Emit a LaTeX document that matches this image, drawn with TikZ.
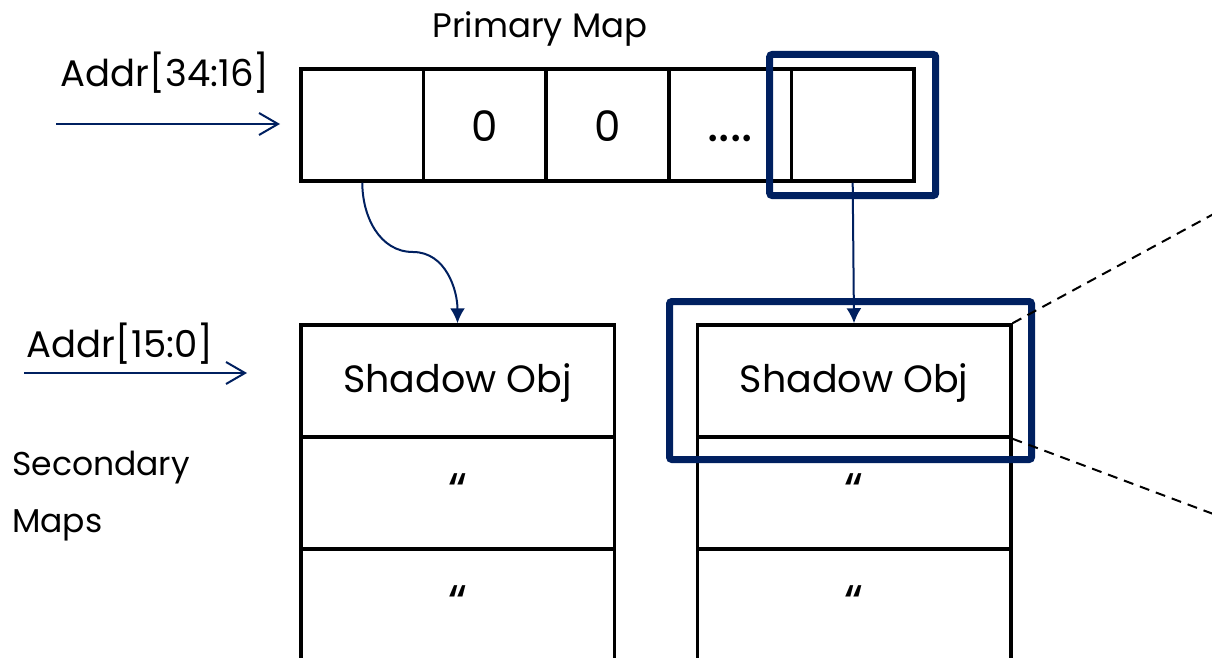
\documentclass[tikz,border=0pt]{standalone}
\usepackage{fontspec}
\setmainfont{Poppins}
\usetikzlibrary{arrows.meta,calc}
\definecolor{navy}{RGB}{0,32,96}

\begin{document}
\begin{tikzpicture}[x=1pt,y=-1pt,
  cell/.style={draw=black, line width=3.5pt, minimum width=122.6pt, minimum height=112pt,
    inner sep=0pt, font=\fontsize{42}{48}\selectfont, text height=34pt, text depth=0pt},
  slot/.style={draw=black, line width=3.5pt, minimum width=313.5pt, minimum height=112pt,
    inner sep=0pt, font=\fontsize{38}{44}\selectfont, text height=24pt, text depth=2pt},
  ditto/.style={font=\fontsize{50}{56}\selectfont, text height=30pt, text depth=0pt},
  txt/.style={inner sep=0pt, font=\fontsize{34}{40}\selectfont},
  hilite/.style={draw=navy, line width=7pt, rounded corners=2.5pt, inner sep=0pt},
  feed/.style={draw=navy, line width=2pt, -{Straight Barb[length=19pt,width=22pt]}},
  link/.style={draw=navy, line width=2pt, -{Latex[length=15pt,width=15pt]}},
  zoomline/.style={draw=black, line width=2pt, dash pattern=on 10pt off 7pt}]

% canvas
\useasboundingbox (0,0) rectangle (1212,658);
\fill[white] (0,0) rectangle (1212,658);
\clip (0,0) rectangle (1212,658);

% primary map: one row of five entries
\node[cell] (p1) at (362.3,125) {};
\node[cell] (p2) at (484.9,125) {0};
\node[cell] (p3) at (607.5,125) {0};
\node[cell, font=\fontsize{54}{60}\selectfont] (p4) at (730.1,125) {....};
\node[cell] (p5) at (852.7,125) {};
\node[txt, anchor=base] (ptitle) at (540,38) {Primary Map};

% secondary maps: two columns of entries
\node[slot] (s1a) at (457.5,381) {Shadow Obj};
\node[slot, ditto] (s1b) at (457.5,493) {“};
\node[slot, ditto] (s1c) at (457.5,605) {“};
\node[slot] (s2a) at (854,381) {Shadow Obj};
\node[slot, ditto] (s2b) at (854,493) {“};
\node[slot, ditto] (s2c) at (854,605) {“};
\node[txt, align=left, anchor=north west, font=\fontsize{33}{57}\selectfont] (stitle) at (12,451) {Secondary\\Maps};

% highlighted entries
\node[hilite, minimum width=166pt, minimum height=141pt] (hl1) at (p5.center) {};
\node[hilite, minimum width=362pt, minimum height=158pt] (hl2) at (850.5,380.5) {};

% address inputs
\node[txt, anchor=base, font=\fontsize{37}{44}\selectfont] (hiaddr) at (165,87) {Addr[34:16]};
\node[txt, anchor=base, font=\fontsize{37}{44}\selectfont] (loaddr) at (120,357) {Addr[15:0]};
\coordinate (hiin) at (56,124);
\coordinate (hiend) at (280,124);
\coordinate (loin) at (24,373);
\coordinate (loend) at (247,373);
\draw[feed] (hiin) -- (hiend);
\draw[feed] (loin) -- (loend);

% pointers from primary to secondary maps
\coordinate (bend) at (413,252);
\draw[link] (p1.south) to[out=-90,in=180] (bend) to[out=0,in=90] (s1a.north);
\draw[link] (p5.south) -- (s2a.north);

% zoom-out guide lines
\coordinate (zt) at (1232,204);
\coordinate (zb) at (1232,521);
\draw[zoomline] (s2a.north east) -- (zt);
\draw[zoomline] (s2a.south east) -- (zb);
\end{tikzpicture}
\end{document}
